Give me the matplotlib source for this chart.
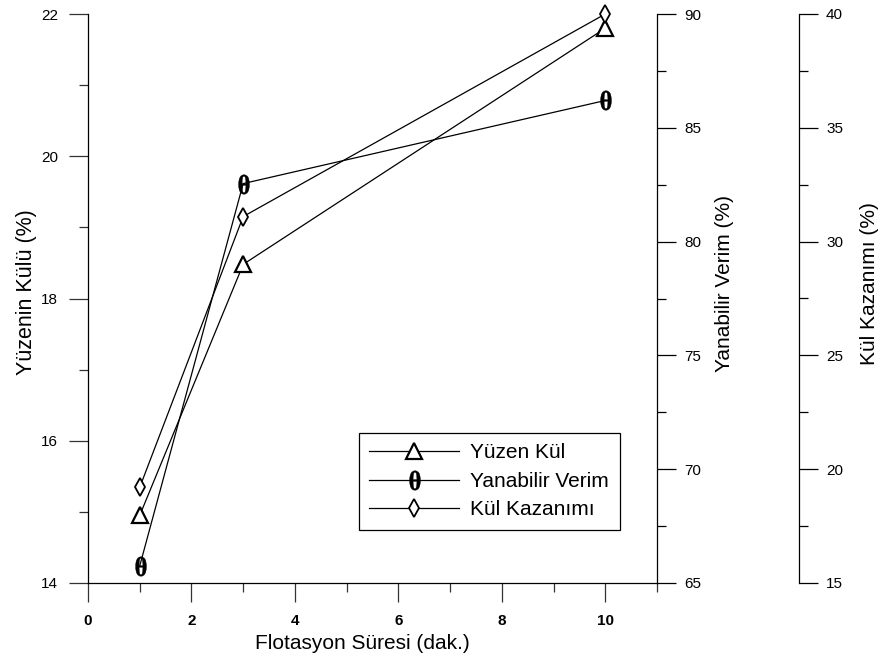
import matplotlib
matplotlib.use("Agg")
import matplotlib.pyplot as plt
from matplotlib.textpath import TextPath
from matplotlib.font_manager import FontProperties
from matplotlib.ticker import MultipleLocator
from matplotlib.path import Path

plt.rcParams['font.family'] = ['Liberation Sans', 'DejaVu Sans']

# Data
flotasyon_suresi = [1, 3, 10]
yuzen_kul = [14.95, 18.48, 21.8]
yanabilir_verim = [65.75, 82.55, 86.2]
kul_kazanimi = [19.2, 31.1, 40.0]

labels = ["Yüzen Kül", "Yanabilir Verim", "Kül Kazanımı"]
x_label = "Flotasyon Süresi (dak.)"
y1_label = "Yüzenin Külü (%)"
y2_label = "Yanabilir Verim (%)"
y3_label = "Kül Kazanımı (%)"
x_ticks = [0, 2, 4, 6, 8, 10]

theta = TextPath((0, 0), "θ", prop=FontProperties(family='Liberation Serif', weight='bold'))
verts = theta.vertices.copy()
verts -= (verts.min(axis=0) + verts.max(axis=0)) / 2
verts[:, 0] *= 0.9
theta_marker = Path(verts, theta.codes)

fig = plt.figure(figsize=(8.81, 6.6), dpi=100)
ax = fig.add_axes([88/881, 1-583/660, (657-88)/881, (583-14)/660])
ax2 = ax.twinx()
ax3 = ax.twinx()
ax3.spines['right'].set_position(('outward', 142 * 72 / 100))

lw = 0.9
l1, = ax.plot(flotasyon_suresi, yuzen_kul, color='black', lw=lw, marker='^', ms=11.5,
              mfc='white', mec='black', mew=1.6, label=labels[0], zorder=3, clip_on=False)
l2, = ax2.plot(flotasyon_suresi, yanabilir_verim, color='black', lw=lw, marker=theta_marker, ms=14,
               mfc='black', mec='black', mew=0.3, label=labels[1], zorder=3, clip_on=False)
l3, = ax3.plot(flotasyon_suresi, kul_kazanimi, color='black', lw=lw, marker='d', ms=9.2,
               mfc='white', mec='black', mew=1.3, label=labels[2], zorder=3, clip_on=False)

ax.set_xlim(0, 11)
ax.set_ylim(14, 22)
ax2.set_ylim(65, 90)
ax3.set_ylim(15, 40)

ax.xaxis.set_major_locator(MultipleLocator(2))
ax.xaxis.set_minor_locator(MultipleLocator(1))
ax.yaxis.set_major_locator(MultipleLocator(2))
ax.yaxis.set_minor_locator(MultipleLocator(1))
for a in (ax2, ax3):
    a.yaxis.set_major_locator(MultipleLocator(5))
    a.yaxis.set_minor_locator(MultipleLocator(2.5))

for a in (ax, ax2, ax3):
    a.spines['top'].set_visible(False)
    a.patch.set_visible(False)
    for s in a.spines.values():
        s.set_linewidth(0.9)
ax.spines['right'].set_visible(False)
for a in (ax2, ax3):
    a.spines['left'].set_visible(False)
    a.spines['bottom'].set_visible(False)

ax.tick_params(axis='both', which='major', direction='out', length=13.5, width=0.9, labelsize=11, color='#333333')
ax.tick_params(axis='both', which='minor', direction='out', length=6.7, width=0.9, color='#333333')
ax.tick_params(axis='x', which='major', pad=9)
ax.tick_params(axis='y', pad=8)
for a in (ax2, ax3):
    a.tick_params(axis='y', which='major', direction='out', length=13.5, width=0.9, labelsize=11, pad=6)
    a.tick_params(axis='y', which='minor', direction='out', length=6.7, width=0.9)

ax.set_xticks(x_ticks)
ax.set_xticklabels([str(t) for t in x_ticks], fontsize=11, fontweight='bold')

ax.set_xlabel(x_label, fontsize=15, labelpad=4)
ax.xaxis.label.set_x((362.5 - 88) / 569)
ax.set_ylabel(y1_label, fontsize=15.5, labelpad=3)
ax.yaxis.label.set_y((583 - 292) / 569)
ax2.set_ylabel(y2_label, fontsize=15, labelpad=10)
ax2.yaxis.label.set_y((583 - 283) / 569)
ax3.set_ylabel(y3_label, fontsize=15, labelpad=12)
ax3.yaxis.label.set_y((583 - 283.5) / 569)

leg = ax.legend(handles=[l1, l2, l3], loc='upper left', bbox_to_anchor=((359-88)/569, (583-433)/569),
                borderaxespad=0, fancybox=False, framealpha=1, edgecolor='black', fontsize=15,
                handlelength=4.3, labelspacing=0.45, handletextpad=0.55, borderpad=0.5)
leg.get_frame().set_linewidth(0.9)
leg.set_zorder(10)

fig.savefig('out.png', dpi=100)
